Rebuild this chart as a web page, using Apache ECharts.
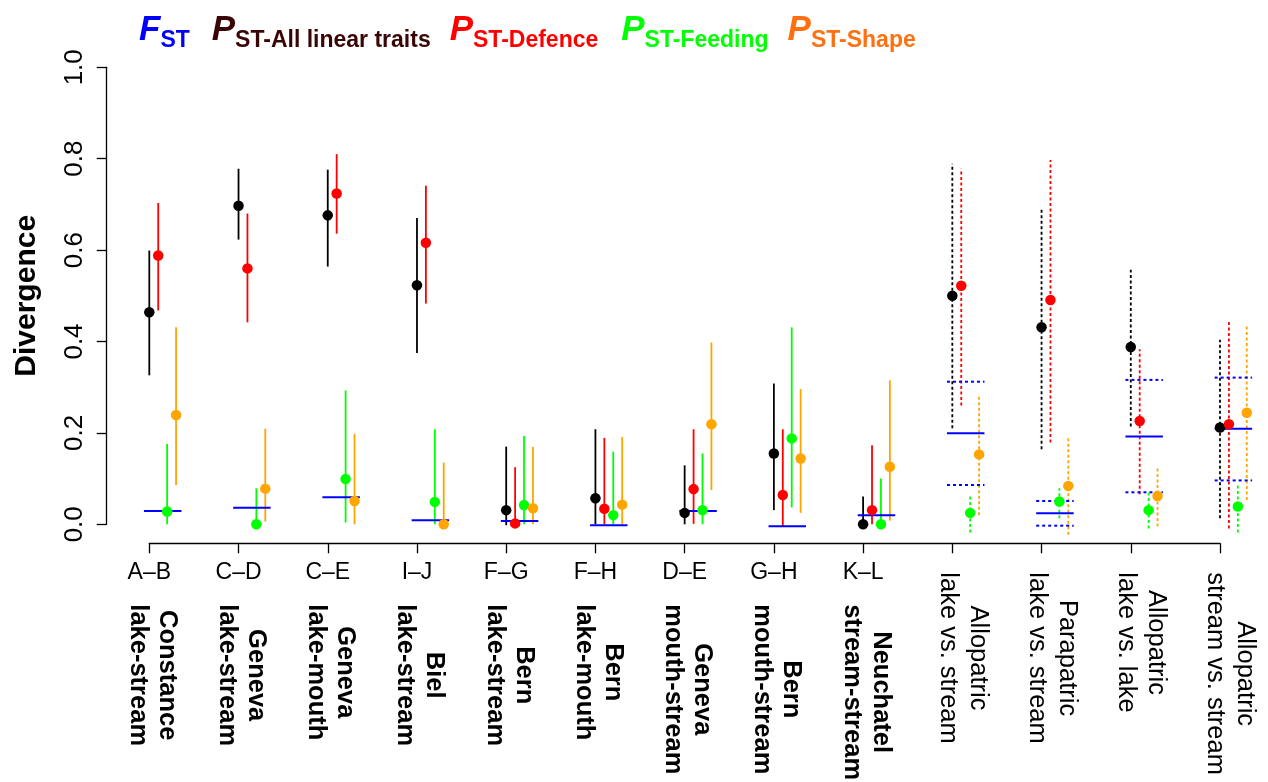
<!DOCTYPE html>
<html><head><meta charset="utf-8">
<script src="https://cdn.jsdelivr.net/npm/echarts@6/dist/echarts.min.js"></script>
<style>html,body{margin:0;padding:0;background:#fff}#c{width:1268px;height:782px}</style>
</head><body><div id="c"></div>
<script>
// ---- data ----
const pairCodes = ['A\u2013B','C\u2013D','C\u2013E','I\u2013J','F\u2013G','F\u2013H','D\u2013E','G\u2013H','K\u2013L','','','',''];
const regionBold = ['Constance\nlake-stream','Geneva\nlake-stream','Geneva\nlake-mouth','Biel\nlake-stream','Bern\nlake-stream','Bern\nlake-mouth','Geneva\nmouth-stream','Bern\nmouth-stream','Neuchatel\nstream-stream','','','',''];
const regionPlain = ['','','','','','','','','','Allopatric\nlake vs. stream','Parapatric\nlake vs. stream','Allopatric\nlake vs. lake','Allopatric\nstream vs. stream'];
const yTicks = [0, 0.2, 0.4, 0.6, 0.8, 1.0];

const fstVal = [0.029, 0.036, 0.059, 0.009, 0.007, -0.002, 0.029, -0.004, 0.020, 0.199, 0.024, 0.192, 0.209];
const fstLo  = [null, null, null, null, null, null, null, null, null, 0.086, -0.003, 0.070, 0.096];
const fstHi  = [null, null, null, null, null, null, null, null, null, 0.312, 0.051, 0.316, 0.321];

const allVal = [0.464, 0.697, 0.676, 0.523, 0.031, 0.057, 0.025, 0.155, 0.000, 0.500, 0.431, 0.388, 0.212];
const allLo  = [0.326, 0.623, 0.564, 0.375, -0.002, 0.000, 0.000, 0.031, 0.000, 0.210, 0.164, 0.214, 0.013];
const allHi  = [0.599, 0.778, 0.776, 0.670, 0.170, 0.208, 0.129, 0.308, 0.061, 0.789, 0.694, 0.557, 0.404];

const defVal = [0.588, 0.560, 0.724, 0.616, 0.002, 0.034, 0.077, 0.064, 0.031, 0.522, 0.491, 0.226, 0.219];
const defLo  = [0.468, 0.442, 0.636, 0.483, 0.000, 0.000, 0.001, -0.004, 0.000, 0.260, 0.179, 0.066, -0.009];
const defHi  = [0.703, 0.680, 0.810, 0.741, 0.125, 0.189, 0.208, 0.208, 0.173, 0.778, 0.797, 0.383, 0.444];

const feedVal = [0.028, 0.000, 0.099, 0.049, 0.042, 0.020, 0.031, 0.188, 0.000, 0.025, 0.050, 0.031, 0.039];
const feedLo  = [0.000, -0.005, 0.004, 0.000, 0.000, 0.000, 0.000, 0.037, 0.000, -0.018, 0.013, -0.009, -0.018];
const feedHi  = [0.176, 0.079, 0.293, 0.208, 0.193, 0.159, 0.155, 0.431, 0.100, 0.062, 0.079, 0.069, 0.086];

const shapeVal = [0.239, 0.078, 0.051, 0.000, 0.035, 0.043, 0.219, 0.144, 0.126, 0.153, 0.084, 0.062, 0.244];
const shapeLo  = [0.086, 0.006, 0.000, -0.004, 0.000, 0.000, 0.075, 0.025, 0.008, 0.020, -0.023, -0.005, 0.053];
const shapeHi  = [0.431, 0.209, 0.198, 0.135, 0.169, 0.191, 0.398, 0.296, 0.315, 0.285, 0.192, 0.125, 0.433];

// ---- build ----
const FONT = "'Liberation Sans', Arial, Helvetica, sans-serif";
const chart = echarts.init(document.getElementById('c'), null, {renderer: 'canvas'});
const groups = pairCodes.map((_, i) => i);
const pooled = i => fstLo[i] !== null;

const traits = [
  {val: allVal,  lo: allLo,  hi: allHi,  color: '#000000', off: 0.0},
  {val: defVal,  lo: defLo,  hi: defHi,  color: '#ff0000', off: 0.1},
  {val: feedVal, lo: feedLo, hi: feedHi, color: '#00ff00', off: 0.2},
  {val: shapeVal,lo: shapeLo,hi: shapeHi,color: '#ffa500', off: 0.3}
];

const series = [];
series.push({
  type: 'custom', xAxisIndex: 0, yAxisIndex: 0, clip: false, z: 3,
  data: groups.map(i => [i, fstVal[i]]),
  renderItem: (params, api) => {
    const x = api.value(0), v = api.value(1);
    const a = api.coord([x - 0.06, v]), b = api.coord([x + 0.36, v]);
    return {type: 'line', shape: {x1: a[0], y1: a[1], x2: b[0], y2: b[1]}, style: {stroke: '#0000ff', lineWidth: 2}};
  }
});
const fstCI = [];
groups.forEach(i => { if (pooled(i)) { fstCI.push([i, fstLo[i]]); fstCI.push([i, fstHi[i]]); } });
series.push({
  type: 'custom', xAxisIndex: 0, yAxisIndex: 0, clip: false, z: 3,
  data: fstCI,
  renderItem: (params, api) => {
    const x = api.value(0), v = api.value(1);
    const a = api.coord([x - 0.06, v]), b = api.coord([x + 0.36, v]);
    return {type: 'line', shape: {x1: a[0], y1: a[1], x2: b[0], y2: b[1]}, style: {stroke: '#0000ff', lineWidth: 2, lineDash: [3, 3]}};
  }
});
traits.forEach(t => {
  series.push({
    type: 'custom', xAxisIndex: 0, yAxisIndex: 0, clip: false, z: 2,
    data: groups.map(i => [i + t.off, t.lo[i], t.hi[i], pooled(i) ? 1 : 0]),
    renderItem: (params, api) => {
      const x = api.value(0);
      const a = api.coord([x, api.value(1)]), b = api.coord([x, api.value(2)]);
      const st = {stroke: t.color, lineWidth: 1.8};
      if (api.value(3) === 1) st.lineDash = [3, 2.5];
      return {type: 'line', shape: {x1: a[0], y1: a[1], x2: b[0], y2: b[1]}, style: st};
    }
  });
});
traits.forEach(t => {
  series.push({
    type: 'scatter', xAxisIndex: 0, yAxisIndex: 0, clip: false, z: 4,
    symbol: 'circle', symbolSize: 10.5,
    itemStyle: {color: t.color, opacity: 1},
    data: groups.map(i => [i + t.off, t.val[i]])
  });
});

const catLabel = (arr) => (v) => { const i = Math.round(v); return (Math.abs(v - i) < 1e-6 && arr[i]) ? arr[i] : ''; };
const richLines = (arr, key) => (v) => {
  const i = Math.round(v);
  if (Math.abs(v - i) > 1e-6 || !arr[i]) return '';
  return arr[i].split('\n').map(s => '{' + key + '|' + s + '}').join('\n');
};

const baseX = {
  type: 'value', min: 0, max: 12, interval: 1, position: 'bottom', offset: 19,
  splitLine: {show: false}, axisLine: {show: false, onZero: false}, axisTick: {show: false}
};

const bigTok = c => ({fontSize: 35, fontWeight: 'bold', fontStyle: 'italic', color: c, lineHeight: 35, verticalAlign: 'bottom', padding: [0, 0, 4, 0], fontFamily: FONT});
const subTok = c => ({fontSize: 23, fontWeight: 'bold', color: c, lineHeight: 23, verticalAlign: 'bottom', fontFamily: FONT});

const option = {
  animation: false,
  backgroundColor: '#ffffff',
  textStyle: {fontFamily: FONT},
  title: {
    left: 139, top: 17, padding: 0,
    text: '{F|F}{sb|ST}{g22| }{Pk|P}{sk|ST-All linear traits}{g19| }{Pr|P}{sr|ST-Defence}{g23| }{Pg|P}{sg|ST-Feeding}{g19| }{Po|P}{so|ST-Shape}',
    textStyle: {
      fontFamily: FONT,
      rich: {
        F: bigTok('#0000ff'), Pk: bigTok('#3a0505'), Pr: bigTok('#ff0000'), Pg: bigTok('#00ff00'), Po: bigTok('#ff7010'),
        sb: subTok('#0000ff'), sk: subTok('#3a0505'), sr: subTok('#ff0000'), sg: subTok('#00ff00'), so: subTok('#ff7010'),
        g22: {width: 22, fontSize: 10}, g19: {width: 19, fontSize: 10}, g23: {width: 23, fontSize: 10}
      }
    }
  },
  grid: {left: 149.3, right: 48, top: 67.3, bottom: 257.7, containLabel: false, outerBoundsMode: 'none'},
  xAxis: [
    Object.assign({}, baseX, {
      axisLine: {show: true, onZero: false, lineStyle: {color: '#000', width: 1.3}},
      axisTick: {show: true, inside: false, length: 10, lineStyle: {color: '#000', width: 1.3}},
      axisLabel: {show: true, margin: 18, fontSize: 23, color: '#000', fontFamily: FONT,
        showMinLabel: true, showMaxLabel: true, formatter: catLabel(pairCodes)}
    }),
    Object.assign({}, baseX, {
      axisLabel: {show: true, rotate: -90, margin: 61, padding: [0, 0, 6, 0], color: '#000',
        showMinLabel: true, showMaxLabel: true, formatter: richLines(regionBold, 'b'),
        rich: {b: {fontSize: 25.5, fontWeight: 'bold', lineHeight: 29, align: 'center', color: '#000', fontFamily: FONT}}}
    }),
    Object.assign({}, baseX, {
      axisLabel: {show: true, rotate: -90, margin: 29, padding: [0, 0, 21, 0], color: '#000',
        showMinLabel: true, showMaxLabel: true, formatter: richLines(regionPlain, 'p'),
        rich: {p: {fontSize: 25.5, fontWeight: 'normal', lineHeight: 30, align: 'center', color: '#000', fontFamily: FONT}}}
    })
  ],
  yAxis: {
    type: 'value', min: 0, max: 1, interval: 0.2, offset: 42.6, position: 'left',
    splitLine: {show: false},
    axisLine: {show: true, onZero: false, lineStyle: {color: '#000', width: 1.3}},
    axisTick: {show: true, inside: false, length: 10, lineStyle: {color: '#000', width: 1.3}},
    axisLabel: {rotate: 90, margin: 18.5, fontSize: 26, color: '#000', fontFamily: FONT,
      showMinLabel: true, showMaxLabel: true, formatter: v => v.toFixed(1)},
    name: 'Divergence', nameLocation: 'middle', nameRotate: 90, nameGap: 65,
    nameTextStyle: {fontSize: 30, fontWeight: 'bold', color: '#000', fontFamily: FONT}
  },
  series: series
};
chart.setOption(option);
</script>
</body></html>
